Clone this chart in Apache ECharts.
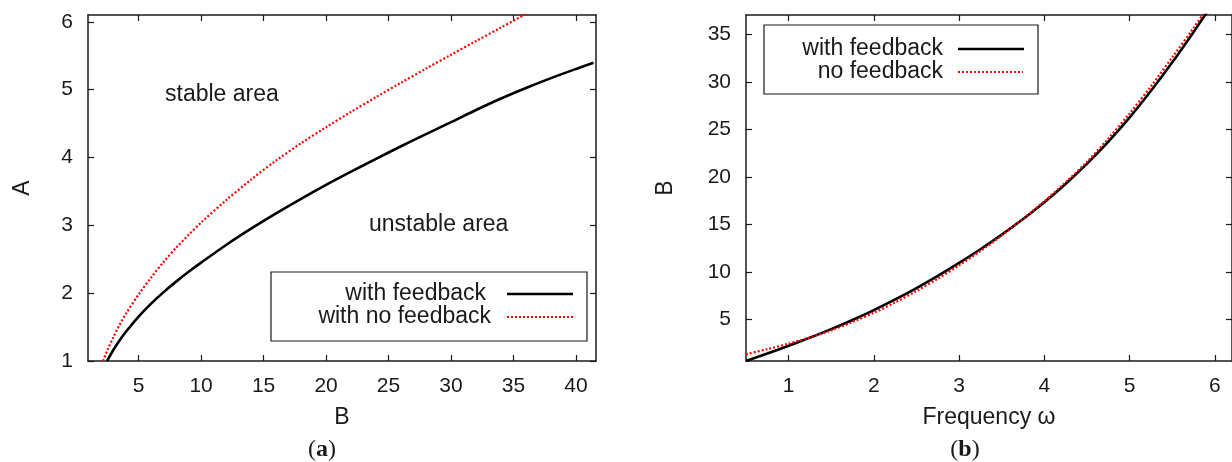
<!DOCTYPE html>
<html>
<head>
<meta charset="utf-8">
<script src="https://cdn.jsdelivr.net/npm/echarts@6/dist/echarts.min.js"></script>
<style>
  html, body { margin: 0; padding: 0; background: #fff; }
  #chart { width: 1232px; height: 462px; }
</style>
</head>
<body>
<div id="chart"></div>
<script>
// Panel (a): stability boundary, amplitude A against B
const bWithFeedback = [2.47, 3, 3.5, 4, 5, 6, 7, 8, 9, 10, 12, 14, 16, 18, 20, 22, 24, 26, 28, 30, 32, 34, 36, 38, 40, 41.4];
const aWithFeedback = [1.0, 1.17, 1.31, 1.435, 1.655, 1.845, 2.015, 2.17, 2.315, 2.45, 2.71, 2.95, 3.175, 3.39, 3.595, 3.79, 3.98, 4.165, 4.345, 4.52, 4.70, 4.87, 5.025, 5.17, 5.305, 5.396];
const bNoFeedback = [2.15, 2.5, 3, 3.5, 4, 5, 6, 7, 8, 9, 10, 12, 14, 16, 18, 20, 22, 24, 26, 28, 30, 32, 34, 36];
const aNoFeedback = [1.0, 1.16, 1.36, 1.54, 1.70, 1.98, 2.23, 2.46, 2.67, 2.86, 3.04, 3.37, 3.674, 3.954, 4.21, 4.446, 4.672, 4.89, 5.102, 5.31, 5.514, 5.716, 5.916, 6.116];
const bTicks = [5, 10, 15, 20, 25, 30, 35, 40];
const aTicks = [1, 2, 3, 4, 5, 6];

// Panel (b): B against frequency omega
const omegaWithFeedback = [0.5, 0.75, 1, 1.25, 1.5, 1.75, 2, 2.25, 2.5, 2.75, 3, 3.25, 3.5, 3.75, 4, 4.25, 4.5, 4.75, 5, 5.25, 5.5, 5.75, 5.91];
const bOmegaWithFeedback = [0.63, 1.41, 2.23, 3.09, 3.99, 4.95, 5.99, 7.11, 8.31, 9.59, 10.95, 12.39, 13.93, 15.57, 17.33, 19.28, 21.40, 23.72, 26.27, 29.07, 32.07, 35.27, 37.4];
const omegaNoFeedback = [0.5, 0.75, 1, 1.25, 1.5, 1.75, 2, 2.25, 2.5, 2.75, 3, 3.25, 3.5, 3.75, 4, 4.25, 4.5, 4.75, 5, 5.25, 5.5, 5.75, 5.88];
const bOmegaNoFeedback = [1.34, 1.88, 2.45, 3.12, 3.85, 4.74, 5.70, 6.80, 8.00, 9.30, 10.70, 12.22, 13.85, 15.60, 17.45, 19.45, 21.60, 24.05, 26.70, 29.55, 32.60, 35.70, 37.36];
const omegaTicks = [1, 2, 3, 4, 5, 6];
const bOmegaTicks = [5, 10, 15, 20, 25, 30, 35];

const FONT = 'Liberation Sans, Arial, Helvetica, sans-serif';
const SERIF = 'Liberation Serif, DejaVu Serif, serif';
const INK = '#1a1a1a';

function pairs(xs, ys) { return xs.map((x, i) => [x, ys[i]]); }

// One side of a boxed frame; mirrored sides carry ticks only
function axis(gridIndex, position, min, max, ticks, withLabels, extra) {
  const vertical = position === 'left' || position === 'right';
  return Object.assign({
    type: 'value',
    gridIndex, position, min, max,
    axisLine: { show: true, onZero: false, lineStyle: { color: INK, width: 1.5 } },
    axisTick: { show: true, inside: true, length: 6, customValues: ticks, lineStyle: { color: INK, width: 1.2 } },
    axisLabel: {
      show: withLabels, customValues: ticks, margin: 15,
      padding: vertical ? [6, 0, 0, 0] : 0,
      fontFamily: FONT, fontSize: 21, color: INK
    },
    splitLine: { show: false }
  }, extra || {});
}

const nameStyle = { fontFamily: FONT, fontSize: 23, color: INK };
const textFont = '23px ' + FONT;

function caption(x, letter) {
  return {
    type: 'text', x, y: 450, z: 11,
    style: {
      text: '{p|(}{b|' + letter + '}{p|)}', align: 'center', verticalAlign: 'middle',
      rich: {
        p: { fontFamily: SERIF, fontSize: 24, fill: INK, fontWeight: 'normal' },
        b: { fontFamily: SERIF, fontSize: 24, fill: INK, fontWeight: 'bold' }
      }
    }
  };
}

function keyText(x, y, text) {
  return { type: 'text', x, y, z: 11,
    style: { text, font: textFont, fill: INK, align: 'right', verticalAlign: 'middle' } };
}

function keySample(x1, x2, y, dotted) {
  return { type: 'line', shape: { x1, y1: y, x2, y2: y }, z: 11,
    style: dotted
      ? { stroke: '#ff0000', lineWidth: 2.2, lineDash: [2, 2] }
      : { stroke: '#000', lineWidth: 2.6 } };
}

const chart = echarts.init(document.getElementById('chart'), null, { renderer: 'canvas' });

chart.setOption({
  animation: false,
  backgroundColor: '#fff',
  grid: [
    { left: 88, top: 15, right: 636, bottom: 101 },
    { left: 746, top: 15, right: -3, bottom: 101 }
  ],
  xAxis: [
    axis(0, 'bottom', 0.95, 41.6, bTicks, true, {
      name: 'B', nameLocation: 'middle', nameGap: 45, nameTextStyle: nameStyle
    }),
    axis(0, 'top', 0.95, 41.6, bTicks, false),
    axis(1, 'bottom', 0.5, 6.2, omegaTicks, true, {
      name: 'Frequency ω', nameLocation: 'middle', nameGap: 45, nameTextStyle: nameStyle
    }),
    axis(1, 'top', 0.5, 6.2, omegaTicks, false)
  ],
  yAxis: [
    axis(0, 'left', 1, 6.1, aTicks, true, {
      name: 'A', nameLocation: 'middle', nameGap: 54, nameRotate: 90, nameTextStyle: nameStyle
    }),
    axis(0, 'right', 1, 6.1, aTicks, false),
    axis(1, 'left', 0.63, 37.05, bOmegaTicks, true, {
      name: 'B', nameLocation: 'middle', nameGap: 69, nameRotate: 90, nameTextStyle: nameStyle
    }),
    axis(1, 'right', 0.63, 37.05, bOmegaTicks, false)
  ],
  series: [
    {
      name: 'with feedback', type: 'line', xAxisIndex: 0, yAxisIndex: 0,
      data: pairs(bWithFeedback, aWithFeedback), smooth: 0.3, showSymbol: false,
      lineStyle: { color: '#000', width: 2.6 }, z: 3
    },
    {
      name: 'with no feedback', type: 'line', xAxisIndex: 0, yAxisIndex: 0,
      data: pairs(bNoFeedback, aNoFeedback), smooth: 0.3, showSymbol: false,
      lineStyle: { color: '#ff0000', width: 2.2, type: [2, 2] }, z: 2
    },
    {
      name: 'with feedback (b)', type: 'line', xAxisIndex: 2, yAxisIndex: 2,
      data: pairs(omegaWithFeedback, bOmegaWithFeedback), smooth: 0.3, showSymbol: false,
      lineStyle: { color: '#000', width: 2.6 }, z: 2
    },
    {
      name: 'no feedback', type: 'line', xAxisIndex: 2, yAxisIndex: 2,
      data: pairs(omegaNoFeedback, bOmegaNoFeedback), smooth: 0.3, showSymbol: false,
      lineStyle: { color: '#ff0000', width: 2.2, type: [2, 2] }, z: 3
    }
  ],
  graphic: [
    // region annotations in panel (a)
    { type: 'text', left: 165, top: 83, style: { text: 'stable area', font: textFont, fill: INK } },
    { type: 'text', left: 369, top: 213, style: { text: 'unstable area', font: textFont, fill: INK } },

    // key for panel (a)
    { type: 'rect', shape: { x: 271, y: 272, width: 316, height: 69 },
      style: { fill: '#fff', stroke: INK, lineWidth: 1.2 }, z: 10 },
    keyText(486, 294, 'with feedback'),
    keyText(491, 317, 'with no feedback'),
    keySample(507, 573, 294, false),
    keySample(507, 573, 317, true),

    // key for panel (b)
    { type: 'rect', shape: { x: 764, y: 25, width: 274, height: 69 },
      style: { fill: '#fff', stroke: INK, lineWidth: 1.2 }, z: 10 },
    keyText(943, 49, 'with feedback'),
    keyText(943, 72, 'no feedback'),
    keySample(958, 1024, 49, false),
    keySample(958, 1023, 72, true),

    // panel captions
    caption(322, 'a'),
    caption(965, 'b')
  ]
});
</script>
</body>
</html>
